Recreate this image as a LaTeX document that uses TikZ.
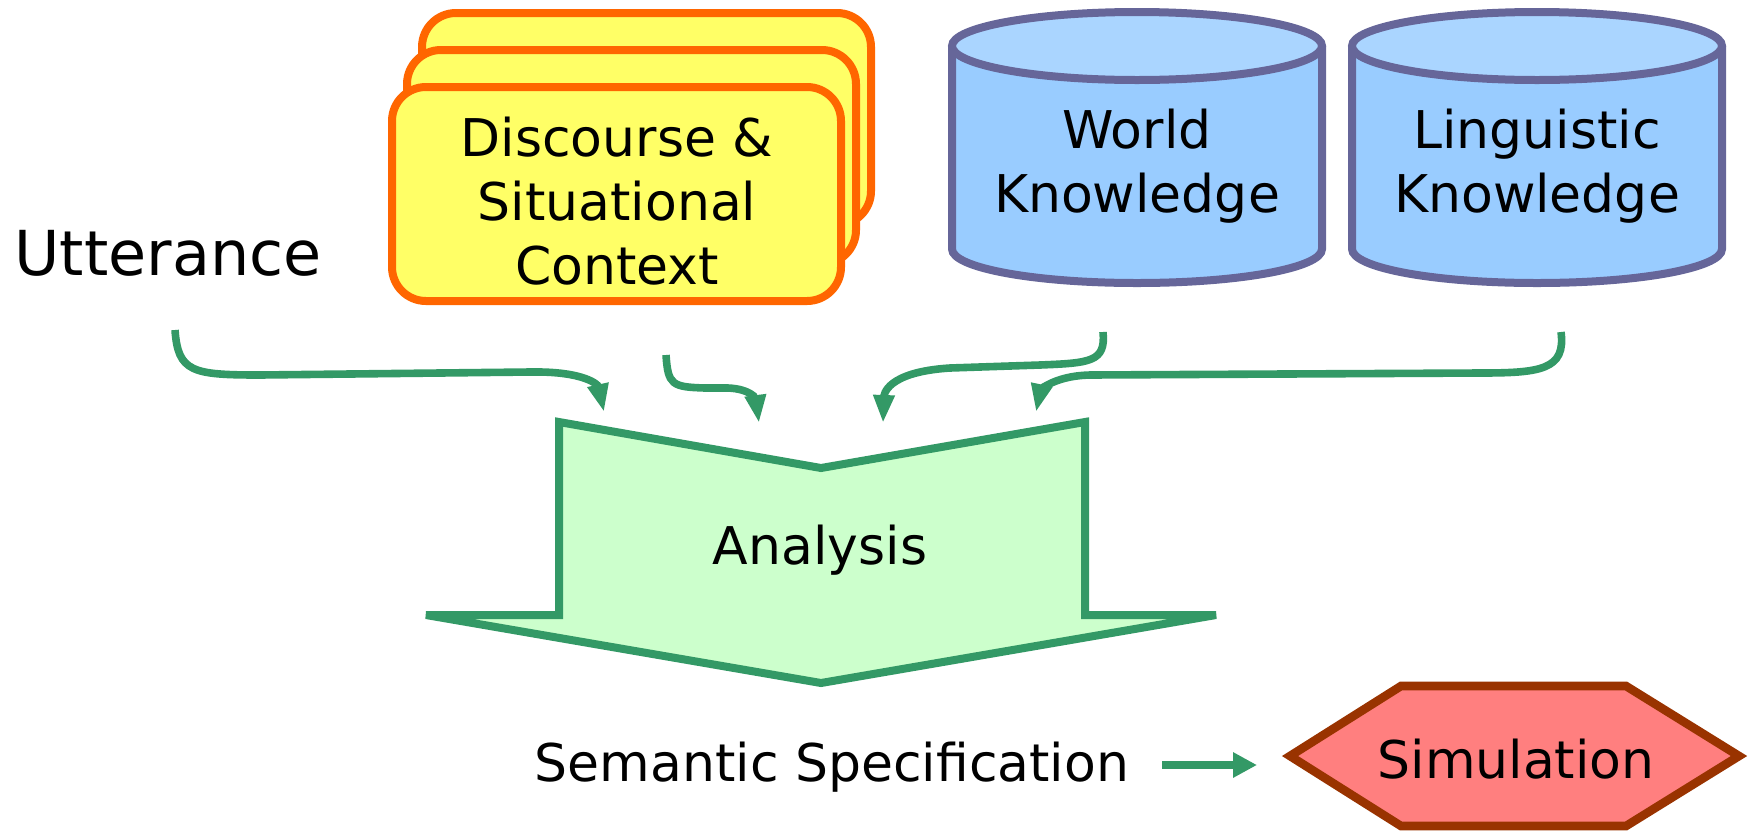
\documentclass[tikz,border=0pt]{standalone}
\usepackage{fontspec}
\setmainfont{DejaVu Sans}
\usetikzlibrary{arrows.meta}
\definecolor{cardfill}{HTML}{FFFF66}
\definecolor{cardline}{HTML}{FF6600}
\definecolor{cylfill}{HTML}{99CCFF}
\definecolor{cyltop}{HTML}{AAD5FF}
\definecolor{cylline}{HTML}{666699}
\definecolor{arrgreen}{HTML}{339966}
\definecolor{chevfill}{HTML}{CCFFCC}
\definecolor{hexfill}{HTML}{FF7F7F}
\definecolor{hexline}{HTML}{993300}
\begin{document}
\begin{tikzpicture}[x=0.5pt,y=-0.5pt,
  card/.style={draw=cardline, fill=cardfill, line width=4pt, rounded corners=17pt},
  cylbody/.style={draw=cylline, fill=cylfill, line width=4pt},
  cyltopface/.style={draw=cylline, fill=cyltop, line width=4pt},
  chev/.style={draw=arrgreen, fill=chevfill, line width=4pt, line join=miter},
  hexa/.style={draw=hexline, fill=hexfill, line width=4.3pt, line join=miter},
  txt/.style={font=\fontsize{26}{32}\selectfont, align=center, inner sep=0pt, text=black},
  bigtxt/.style={font=\fontsize{31}{37}\selectfont, inner sep=0pt, text=black},
  curvearrow/.style={draw=arrgreen, line width=3.8pt, -{Triangle[length=14pt,width=10pt]}},
  straightarrow/.style={draw=arrgreen, line width=4pt, -{Triangle[length=12pt,width=12pt]}}]
\useasboundingbox (0,0) rectangle (1749,831);

% discourse cards
\draw[card] (422,13) rectangle (871,225);
\draw[card] (407,50) rectangle (856,264);
\draw[card] (392,87) rectangle (841,301);
\node[txt] (disc) at (617,201) {Discourse \&\\Situational\\Context};

% cylinders
\path[cylbody] (952,46) -- (952,249) .. controls (952,268) and (1035,283) .. (1137,283)
  .. controls (1239,283) and (1322,268) .. (1322,249) -- (1322,46);
\draw[cyltopface] (1137,46) ellipse[x radius=185, y radius=34];
\node[txt] (world) at (1137,166) {World\\Knowledge};

\path[cylbody] (1352,46) -- (1352,249) .. controls (1352,268) and (1435,283) .. (1537,283)
  .. controls (1639,283) and (1722,268) .. (1722,249) -- (1722,46);
\draw[cyltopface] (1537,46) ellipse[x radius=185, y radius=34];
\node[txt] (ling) at (1537,166) {Linguistic\\Knowledge};

% utterance
\node[bigtxt] (utt) at (168,253) {Utterance};

% chevron
\draw[chev] (559,422) -- (821,468) -- (1085,422) -- (1085,615) -- (1216,615)
  -- (821,683) -- (426,615) -- (559,615) -- cycle;
\node[txt] (ana) at (820,550) {Analysis};

% semantic specification and simulation
\node[txt] (sem) at (832,767) {Semantic Specification};
\draw[hexa] (1290,756) -- (1401,686) -- (1626,686) -- (1739,756) -- (1626,826) -- (1401,826) -- cycle;
\node[txt] (sim) at (1516,759) {Simulation};

% connector end points
\coordinate (u0) at (175,330);
\coordinate (u1) at (604,412);
\coordinate (d0) at (666,355);
\coordinate (d1) at (759,423);
\coordinate (w0) at (1103,332);
\coordinate (w1) at (883,423);
\coordinate (l0) at (1561,332);
\coordinate (l1) at (1036,412);
\coordinate (s0) at (1162,765);
\coordinate (s1) at (1257,765);

\draw[curvearrow] (u0) .. controls (178,372) and (192,375) .. (260,375) -- (530,372)
  .. controls (585,371) and (598,385) .. (u1);
\draw[curvearrow] (d0) .. controls (668,385) and (672,387) .. (705,388) -- (728,388)
  .. controls (752,389) and (756,400) .. (d1);
\draw[curvearrow] (w0) .. controls (1106,362) and (1090,363) .. (1040,365) -- (950,368)
  .. controls (886,372) and (884,395) .. (w1);
\draw[curvearrow] (l0) .. controls (1566,370) and (1540,373) .. (1480,373) -- (1090,375)
  .. controls (1050,376) and (1040,393) .. (l1);
\draw[straightarrow] (s0) -- (s1);
\end{tikzpicture}
\end{document}
